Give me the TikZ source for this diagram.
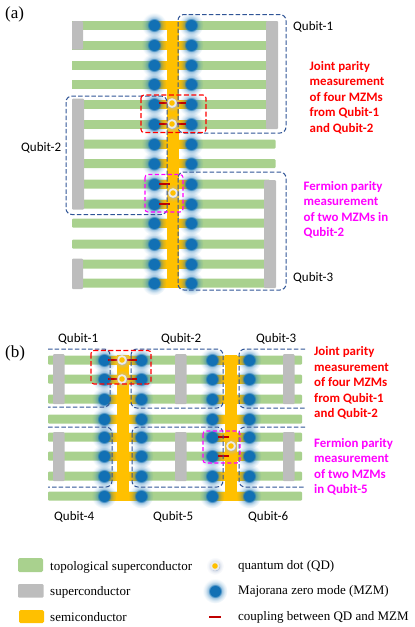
\documentclass[tikz,border=0pt]{standalone}
\usepackage{fontspec}
\setmainfont{Liberation Serif}
\newfontfamily\labelfont{Carlito}
\usetikzlibrary{fadings}
\pgfdeclareradialshading{glowshade}{\pgfpointorigin}{color(0bp)=(transparent!0); color(11bp)=(transparent!0); color(13bp)=(transparent!55); color(19bp)=(transparent!85); color(25bp)=(transparent!100); color(50bp)=(transparent!100)}
\pgfdeclarefading{glowfade}{\pgfuseshading{glowshade}}
\definecolor{tsgreen}{RGB}{169,209,142}
\definecolor{scgray}{RGB}{189,189,189}
\definecolor{semi}{RGB}{255,192,0}
\definecolor{mzmblue}{RGB}{18,112,180}
\definecolor{qblue}{RGB}{47,84,150}
\definecolor{coup}{RGB}{192,0,0}
\definecolor{purered}{RGB}{255,0,0}
\definecolor{puremag}{RGB}{255,0,255}
\tikzset{
 greenbar/.style={fill=tsgreen,draw=none},
 graybar/.style={fill=scgray,draw=none,rounded corners=1pt},
 semibar/.style={fill=semi,draw=none},
 qubitbox/.style={draw=qblue,line width=1pt,dash pattern=on 4.5pt off 2.2pt,rounded corners=6pt},
 redbox/.style={draw=purered,line width=1.1pt,dash pattern=on 5pt off 2.5pt,rounded corners=3pt},
 magbox/.style={draw=puremag,line width=1.1pt,dash pattern=on 4pt off 2.5pt,rounded corners=3pt},
 coupling/.style={draw=coup,line width=2pt},
 qlabel/.style={font=\labelfont\fontsize{13}{15}\selectfont,text=black,inner sep=0pt,anchor=west},
 note/.style={font=\labelfont\bfseries\fontsize{12.9}{15.5}\selectfont,inner sep=0pt,anchor=north west,align=left},
 legendtext/.style={font=\fontsize{13}{15}\selectfont,inner sep=0pt,anchor=west},
 panel/.style={font=\fontsize{17}{19}\selectfont,inner sep=0pt,anchor=west},
}
\newcommand{\mzm}[2]{%
 \fill[mzmblue,path fading=glowfade] (#1,#2) circle (12.5);}
\newcommand{\qdot}[2]{%
 \fill[qblue!40,path fading=glowfade] (#1,#2) circle (9);
 \fill[white!85!gray] (#1,#2) circle (4.8);
 \fill[semi] (#1,#2) circle (2.8);}
\begin{document}
\begin{tikzpicture}[x=1pt,y=-1pt]
\useasboundingbox (0,0) rectangle (415,627);
% ---------- panel a
\foreach \y in {25,45}{\fill[greenbar] (72,\y-4.5) rectangle (268,\y+4.5);}
\foreach \y in {65,84,104,124}{\fill[greenbar] (72,\y-4.5) rectangle (268,\y+4.5);}
\foreach \y in {144,163.5}{\fill[greenbar,rounded corners=1pt] (78,\y-4.5) rectangle (275.5,\y+4.5);}
\foreach \y in {184,204,223,244,264,283}{\fill[greenbar,rounded corners=1pt] (72,\y-4.5) rectangle (270,\y+4.5);}
\foreach \y in {25,45,65,84,104,124,144,163.5,184,204,223,244,264,283}{
  \fill[semibar] (154,\y-4.5) rectangle (191,\y+4.5);}
\fill[semibar] (167,21) rectangle (178.5,288);
\fill[graybar] (72,21) rectangle (83,49.5);
\fill[graybar] (266,21) rectangle (278,129);
\fill[graybar] (72,98.5) rectangle (84,209.5);
\fill[graybar] (264,180) rectangle (276,288);
\fill[graybar] (72,258.5) rectangle (83,289);
\foreach \y in {25,45,65,84,104,124,144,163.5,184,204,223,244,264,283}{
  \mzm{154}{\y}\mzm{191}{\y}}
\draw[coupling] (159,103) -- (186,103);
\draw[coupling] (159,124) -- (186,124);
\qdot{172}{103}\qdot{172}{124}
\draw[coupling] (159,184) -- (170,184);
\draw[coupling] (159,204) -- (170,204);
\qdot{173}{193}
\draw[qubitbox] (178,133) rectangle (286,14.5);
\draw[qubitbox] (167,214.5) rectangle (66,96);
\draw[qubitbox] (178,172) rectangle (286,290);
\draw[redbox] (141,95) rectangle (206,132.5);
\draw[magbox] (145,174.5) rectangle (183,212);
\node[panel] (pa) at (5,14) {(a)};
\node[qlabel] (q1a) at (293,26.5) {Qubit-1};
\node[qlabel] (q2a) at (21,148) {Qubit-2};
\node[qlabel] (q3a) at (293,278) {Qubit-3};
\node[note,text=purered] (na1) at (309.5,61) {Joint parity\\measurement\\of four MZMs\\from Qubit-1\\and Qubit-2};
\node[note,text=puremag] (na2) at (303.5,181) {Fermion parity\\measurement\\of two MZMs in\\Qubit-2};
% ---------- panel b
\foreach \y in {360,379,399,419,437,456,476,496}{
  \fill[greenbar,rounded corners=1pt] (48,\y-4.5) rectangle (302,\y+4.5);
  \fill[semibar] (104,\y-4.5) rectangle (141,\y+4.5);
  \fill[semibar] (212,\y-4.5) rectangle (249,\y+4.5);}
\fill[semibar] (117,355) rectangle (128.5,500.5);
\fill[semibar] (224.5,355) rectangle (237,500.5);
\foreach \x in {53,175,283}{
  \fill[graybar] (\x,354) rectangle (\x+11.5,404);
  \fill[graybar] (\x,432) rectangle (\x+11.5,481);}
\foreach \y in {360,379,399,419,437,456,476,496}{
  \mzm{104}{\y}\mzm{141}{\y}\mzm{212}{\y}\mzm{249}{\y}}
\draw[coupling] (108,360) -- (137,360);
\draw[coupling] (108,379) -- (137,379);
\qdot{122}{360}\qdot{122}{379}
\draw[coupling] (218,437) -- (229,437);
\draw[coupling] (218,456) -- (229,456);
\qdot{231}{446}
\draw[qubitbox] (48,349) -- (110,349) -- (110,407) -- (48,407);
\draw[qubitbox] (131,349) rectangle (223,408);
\draw[qubitbox] (305,349) -- (239,349) -- (239,408) -- (305,408);
\draw[qubitbox] (48,427) -- (112,427) -- (112,487) -- (48,487);
\draw[qubitbox] (132,427) rectangle (223,487);
\draw[qubitbox] (305,427) -- (239,427) -- (239,487) -- (305,487);
\draw[redbox] (91,350.5) rectangle (151,384);
\draw[magbox] (203,431) rectangle (240,463);
\node[panel] (pb) at (5,353.5) {(b)};
\node[qlabel] (q1b) at (58,338.5) {Qubit-1};
\node[qlabel] (q2b) at (161,338.5) {Qubit-2};
\node[qlabel] (q3b) at (256,338.5) {Qubit-3};
\node[qlabel] (q4b) at (54,517) {Qubit-4};
\node[qlabel] (q5b) at (153,517) {Qubit-5};
\node[qlabel] (q6b) at (248,517) {Qubit-6};
\node[note,text=purered] (nb1) at (314,346.5) {Joint parity\\measurement\\of four MZMs\\from Qubit-1\\and Qubit-2};
\node[note,text=puremag] (nb2) at (314,438) {Fermion parity\\measurement\\of two MZMs\\in Qubit-5};
% ---------- legend
\fill[greenbar,rounded corners=1.5pt] (18,558) rectangle (43,572);
\fill[graybar] (18,584) rectangle (43.5,597.5);
\fill[semibar,rounded corners=1.5pt] (19,610) rectangle (44,623);
\node[legendtext] (l1) at (50,567) {topological superconductor};
\node[legendtext] (l2) at (50,592) {superconductor};
\node[legendtext] (l3) at (50,617.5) {semiconductor};
\qdot{215}{566}
\mzm{215}{591}
\draw[coupling] (209,617) -- (221,617);
\node[legendtext] (l4) at (238,566.5) {quantum dot (QD)};
\node[legendtext] (l5) at (238,591.5) {Majorana zero mode (MZM)};
\node[legendtext] (l6) at (238,617) {coupling between QD and MZM};
\end{tikzpicture}
\end{document}
